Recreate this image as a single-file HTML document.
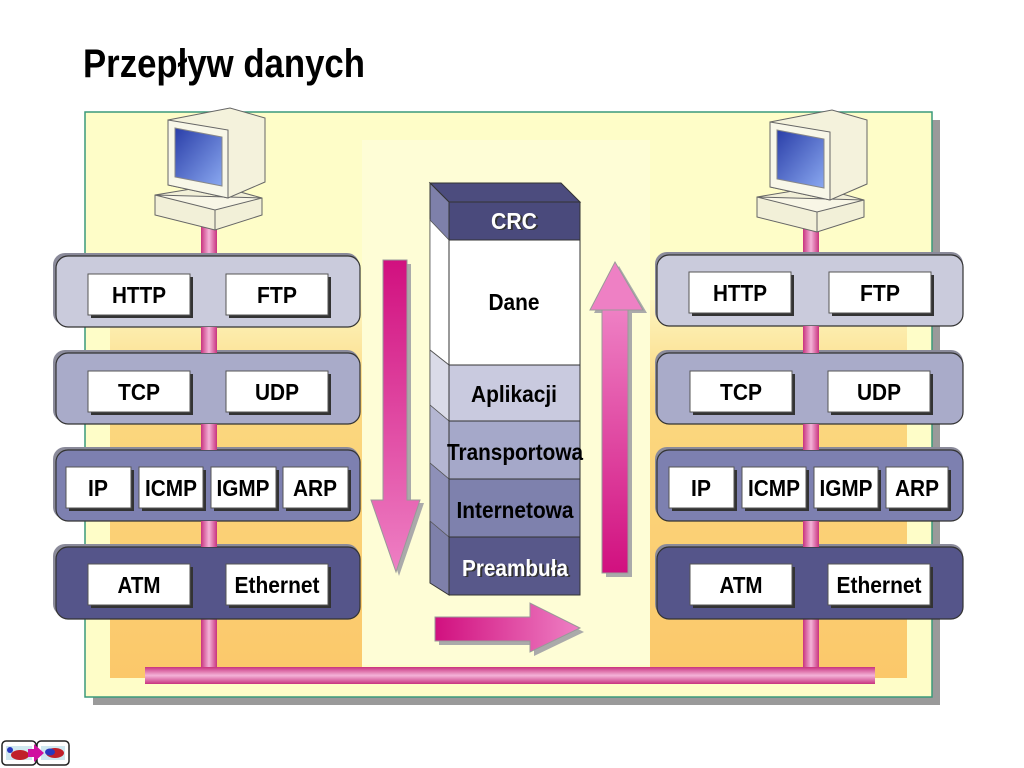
<!DOCTYPE html>
<html><head><meta charset="utf-8"><style>
html,body{margin:0;padding:0;background:#fff;}
svg{display:block;}
text{font-family:"Liberation Sans",sans-serif;font-weight:bold;}
</style></head><body>
<svg width="1024" height="768" viewBox="0 0 1024 768" xmlns="http://www.w3.org/2000/svg">
<defs>
<linearGradient id="pv" x1="0" x2="1" y1="0" y2="0">
<stop offset="0" stop-color="#c8337f"/><stop offset="0.5" stop-color="#f4b3d8"/><stop offset="1" stop-color="#c8337f"/></linearGradient>
<linearGradient id="ph" x1="0" x2="0" y1="0" y2="1">
<stop offset="0" stop-color="#c8337f"/><stop offset="0.5" stop-color="#f4b3d8"/><stop offset="1" stop-color="#c8337f"/></linearGradient>
<linearGradient id="down" x1="0" x2="0" y1="0" y2="1">
<stop offset="0" stop-color="#d1107f"/><stop offset="1" stop-color="#ee80c4"/></linearGradient>
<linearGradient id="up" x1="0" x2="0" y1="1" y2="0">
<stop offset="0" stop-color="#d1107f"/><stop offset="1" stop-color="#ee80c4"/></linearGradient>
<linearGradient id="right" x1="0" x2="1" y1="0" y2="0">
<stop offset="0" stop-color="#d1107f"/><stop offset="1" stop-color="#ee80c4"/></linearGradient>
<linearGradient id="org" x1="0" x2="0" y1="0" y2="1">
<stop offset="0" stop-color="#fdf5c0"/><stop offset="0.25" stop-color="#fbd880"/><stop offset="1" stop-color="#fbc86a"/></linearGradient>
<linearGradient id="scr" x1="0" x2="1" y1="0" y2="1">
<stop offset="0" stop-color="#2a3ea8"/><stop offset="1" stop-color="#8aa8f0"/></linearGradient>
</defs>

<text x="83" y="77" font-size="40" textLength="282" lengthAdjust="spacingAndGlyphs" fill="#000">Przepływ danych</text>

<!-- panel -->
<rect x="93" y="120" width="847" height="585" fill="#9a9a9a"/>
<rect x="85" y="112" width="847" height="585" fill="#fefdc8" stroke="#3a9a7a" stroke-width="1.5"/>
<rect x="110" y="300" width="252" height="378" fill="url(#org)"/>
<rect x="650" y="300" width="257" height="378" fill="url(#org)"/>
<rect x="362" y="140" width="288" height="525" fill="#fefde0" opacity="0.6"/>

<!-- vertical pipes -->
<rect x="201" y="222" width="16" height="455" fill="url(#pv)"/>
<rect x="803" y="222" width="16" height="455" fill="url(#pv)"/>
<rect x="145" y="667" width="730" height="17" fill="url(#ph)"/>

<!-- computers -->
<g id="pc">
<polygon points="155,195 215,185 262,198 262,215 215,230 155,215" fill="#f2f0d8" stroke="#666" stroke-width="1"/>
<polygon points="155,195 215,210 262,198" fill="#f8f6e6" stroke="#666" stroke-width="1"/>
<polygon points="215,210 215,230" stroke="#666"/>
<polygon points="168,120 230,108 265,118 265,182 228,198 168,185" fill="#f4f2dc" stroke="#666" stroke-width="1"/>
<polygon points="168,120 228,130 228,198 168,185" fill="#f8f7e8" stroke="#666" stroke-width="1"/>
<polygon points="175,128 222,137 222,186 175,177" fill="url(#scr)" stroke="#888"/>
</g>
<use href="#pc" transform="translate(602,2)"/>

<!-- layer rows left -->
<g stroke="#333" stroke-width="1.2">
<rect x="53" y="253" width="306" height="72" rx="12" fill="#8a8a9a" stroke="none"/>
<rect x="56" y="256" width="304" height="71" rx="12" fill="#cacbdc"/>
<rect x="53" y="350" width="306" height="72" rx="12" fill="#8a8a9a" stroke="none"/>
<rect x="56" y="353" width="304" height="71" rx="12" fill="#a9abc9"/>
<rect x="53" y="447" width="306" height="72" rx="12" fill="#8a8a9a" stroke="none"/>
<rect x="56" y="450" width="304" height="71" rx="12" fill="#7d80b0"/>
<rect x="53" y="544" width="306" height="72" rx="12" fill="#8a8a9a" stroke="none"/>
<rect x="56" y="547" width="304" height="72" rx="12" fill="#55558a"/>
<!-- right -->
<rect x="655" y="252" width="308" height="72" rx="12" fill="#8a8a9a" stroke="none"/>
<rect x="657" y="255" width="306" height="71" rx="12" fill="#cacbdc"/>
<rect x="655" y="350" width="308" height="72" rx="12" fill="#8a8a9a" stroke="none"/>
<rect x="657" y="353" width="306" height="71" rx="12" fill="#a9abc9"/>
<rect x="655" y="447" width="308" height="72" rx="12" fill="#8a8a9a" stroke="none"/>
<rect x="657" y="450" width="306" height="71" rx="12" fill="#7d80b0"/>
<rect x="655" y="544" width="308" height="72" rx="12" fill="#8a8a9a" stroke="none"/>
<rect x="657" y="547" width="306" height="72" rx="12" fill="#55558a"/>
</g>
<!-- pipes visible between rows (drawn over rows) -->
<rect x="201" y="327" width="16" height="26" fill="url(#pv)"/>
<rect x="201" y="424" width="16" height="26" fill="url(#pv)"/>
<rect x="201" y="521" width="16" height="26" fill="url(#pv)"/>
<rect x="803" y="326" width="16" height="27" fill="url(#pv)"/>
<rect x="803" y="424" width="16" height="26" fill="url(#pv)"/>
<rect x="803" y="521" width="16" height="26" fill="url(#pv)"/>

<!-- boxes -->
<g fill="#fff" stroke="#555" stroke-width="1">
<rect x="91" y="277" width="102" height="41" fill="#333" stroke="none"/><rect x="88" y="274" width="102" height="41"/>
<rect x="229" y="277" width="102" height="41" fill="#333" stroke="none"/><rect x="226" y="274" width="102" height="41"/>
<rect x="91" y="374" width="102" height="41" fill="#333" stroke="none"/><rect x="88" y="371" width="102" height="41"/>
<rect x="229" y="374" width="102" height="41" fill="#333" stroke="none"/><rect x="226" y="371" width="102" height="41"/>
<rect x="69" y="470" width="65" height="41" fill="#333" stroke="none"/><rect x="66" y="467" width="65" height="41"/>
<rect x="142" y="470" width="64" height="41" fill="#333" stroke="none"/><rect x="139" y="467" width="64" height="41"/>
<rect x="214" y="470" width="65" height="41" fill="#333" stroke="none"/><rect x="211" y="467" width="65" height="41"/>
<rect x="286" y="470" width="65" height="41" fill="#333" stroke="none"/><rect x="283" y="467" width="65" height="41"/>
<rect x="91" y="567" width="102" height="41" fill="#333" stroke="none"/><rect x="88" y="564" width="102" height="41"/>
<rect x="229" y="567" width="102" height="41" fill="#333" stroke="none"/><rect x="226" y="564" width="102" height="41"/>

<rect x="692" y="275" width="102" height="41" fill="#333" stroke="none"/><rect x="689" y="272" width="102" height="41"/>
<rect x="832" y="275" width="102" height="41" fill="#333" stroke="none"/><rect x="829" y="272" width="102" height="41"/>
<rect x="693" y="374" width="102" height="41" fill="#333" stroke="none"/><rect x="690" y="371" width="102" height="41"/>
<rect x="831" y="374" width="102" height="41" fill="#333" stroke="none"/><rect x="828" y="371" width="102" height="41"/>
<rect x="672" y="470" width="65" height="41" fill="#333" stroke="none"/><rect x="669" y="467" width="65" height="41"/>
<rect x="745" y="470" width="64" height="41" fill="#333" stroke="none"/><rect x="742" y="467" width="64" height="41"/>
<rect x="817" y="470" width="64" height="41" fill="#333" stroke="none"/><rect x="814" y="467" width="64" height="41"/>
<rect x="889" y="470" width="62" height="41" fill="#333" stroke="none"/><rect x="886" y="467" width="62" height="41"/>
<rect x="693" y="567" width="102" height="41" fill="#333" stroke="none"/><rect x="690" y="564" width="102" height="41"/>
<rect x="831" y="567" width="102" height="41" fill="#333" stroke="none"/><rect x="828" y="564" width="102" height="41"/>
</g>
<g font-size="23" text-anchor="middle" fill="#000">
<text x="139" y="303" textLength="54" lengthAdjust="spacingAndGlyphs">HTTP</text>
<text x="277" y="303" textLength="40" lengthAdjust="spacingAndGlyphs">FTP</text>
<text x="139" y="400" textLength="42" lengthAdjust="spacingAndGlyphs">TCP</text>
<text x="277" y="400" textLength="44" lengthAdjust="spacingAndGlyphs">UDP</text>
<text x="98" y="496" textLength="20" lengthAdjust="spacingAndGlyphs">IP</text>
<text x="171" y="496" textLength="52" lengthAdjust="spacingAndGlyphs">ICMP</text>
<text x="243" y="496" textLength="53" lengthAdjust="spacingAndGlyphs">IGMP</text>
<text x="315" y="496" textLength="44" lengthAdjust="spacingAndGlyphs">ARP</text>
<text x="139" y="593" textLength="43" lengthAdjust="spacingAndGlyphs">ATM</text>
<text x="277" y="593" textLength="85" lengthAdjust="spacingAndGlyphs">Ethernet</text>

<text x="740" y="301" textLength="54" lengthAdjust="spacingAndGlyphs">HTTP</text>
<text x="880" y="301" textLength="40" lengthAdjust="spacingAndGlyphs">FTP</text>
<text x="741" y="400" textLength="42" lengthAdjust="spacingAndGlyphs">TCP</text>
<text x="879" y="400" textLength="44" lengthAdjust="spacingAndGlyphs">UDP</text>
<text x="701" y="496" textLength="20" lengthAdjust="spacingAndGlyphs">IP</text>
<text x="774" y="496" textLength="52" lengthAdjust="spacingAndGlyphs">ICMP</text>
<text x="846" y="496" textLength="53" lengthAdjust="spacingAndGlyphs">IGMP</text>
<text x="917" y="496" textLength="44" lengthAdjust="spacingAndGlyphs">ARP</text>
<text x="741" y="593" textLength="43" lengthAdjust="spacingAndGlyphs">ATM</text>
<text x="879" y="593" textLength="85" lengthAdjust="spacingAndGlyphs">Ethernet</text>
</g>

<!-- arrows -->
<polygon points="387,264 411,264 411,503 424,503 399,576 375,503 387,503" fill="#aaa"/>
<polygon points="383,260 407,260 407,500 420,500 396,572 371,500 383,500" fill="url(#down)" stroke="#999" stroke-width="1"/>
<polygon points="606,313 632,313 632,577 606,577 606,313 594,313 619,266 647,313" fill="#aaa"/>
<polygon points="602,310 628,310 628,573 602,573" fill="url(#up)" stroke="#999" stroke-width="1"/>
<polygon points="590,310 615,262 643,310" fill="#ee80c4" stroke="#999" stroke-width="1"/>
<polygon points="439,621 534,621 534,607 584,632 534,656 534,645 439,645" fill="#aaa"/>
<polygon points="435,617 530,617 530,603 580,628 530,652 530,641 435,641" fill="url(#right)" stroke="#999" stroke-width="1"/>

<!-- stack -->
<polygon points="430,183 561,183 580,202 449,202" fill="#4c4c7e" stroke="#333"/>
<polygon points="430,183 449,202 449,595 430,583" fill="#7e80aa" stroke="#333"/>
<polygon points="430,220 449,240 449,365 430,350" fill="#fff" stroke="#555" stroke-width="0.8"/>
<polygon points="430,350 449,365 449,421 430,405" fill="#dadbe8" stroke="#555" stroke-width="0.8"/>
<polygon points="430,405 449,421 449,479 430,463" fill="#b4b6d2" stroke="#555" stroke-width="0.8"/>
<polygon points="430,463 449,479 449,537 430,521" fill="#8e90b8" stroke="#555" stroke-width="0.8"/>
<g stroke="#333" stroke-width="1">
<rect x="449" y="202" width="131" height="38" fill="#4a4a7c"/>
<rect x="449" y="240" width="131" height="125" fill="#fff"/>
<rect x="449" y="365" width="131" height="56" fill="#c9cadf"/>
<rect x="449" y="421" width="131" height="58" fill="#a5a8c9"/>
<rect x="449" y="479" width="131" height="58" fill="#7e81ad"/>
<rect x="449" y="537" width="131" height="58" fill="#58588a"/>
</g>
<g font-size="23" text-anchor="middle">
<text x="516" y="230" fill="#333" textLength="46" lengthAdjust="spacingAndGlyphs">CRC</text>
<text x="514" y="229" fill="#fff" textLength="46" lengthAdjust="spacingAndGlyphs">CRC</text>
<text x="514" y="310" fill="#000" textLength="51" lengthAdjust="spacingAndGlyphs">Dane</text>
<text x="514" y="402" fill="#000" textLength="86" lengthAdjust="spacingAndGlyphs">Aplikacji</text>
<text x="515" y="460" fill="#000" textLength="136" lengthAdjust="spacingAndGlyphs">Transportowa</text>
<text x="515" y="518" fill="#000" textLength="117" lengthAdjust="spacingAndGlyphs">Internetowa</text>
<text x="517" y="577" fill="#333" textLength="106" lengthAdjust="spacingAndGlyphs">Preambuła</text>
<text x="515" y="576" fill="#fff" textLength="106" lengthAdjust="spacingAndGlyphs">Preambuła</text>
</g>

<!-- footer icon -->
<rect x="2" y="741" width="34" height="24" rx="4" fill="#fff" stroke="#222" stroke-width="1.5"/>
<rect x="37" y="741" width="32" height="24" rx="4" fill="#fff" stroke="#222" stroke-width="1.5"/>
<rect x="6" y="746" width="26" height="14" fill="#cfe8f0"/>
<rect x="41" y="746" width="24" height="14" fill="#cfe8f0"/>
<ellipse cx="20" cy="755" rx="9" ry="5" fill="#c0202a"/>
<circle cx="10" cy="750" r="3" fill="#2838c0"/>
<ellipse cx="55" cy="753" rx="9" ry="5" fill="#c0202a"/>
<ellipse cx="50" cy="752" rx="5" ry="3.5" fill="#2838c0"/>
<polygon points="28,749 34,749 34,744 44,753 34,762 34,757 28,757" fill="#d010a0"/>
</svg>
</body></html>
